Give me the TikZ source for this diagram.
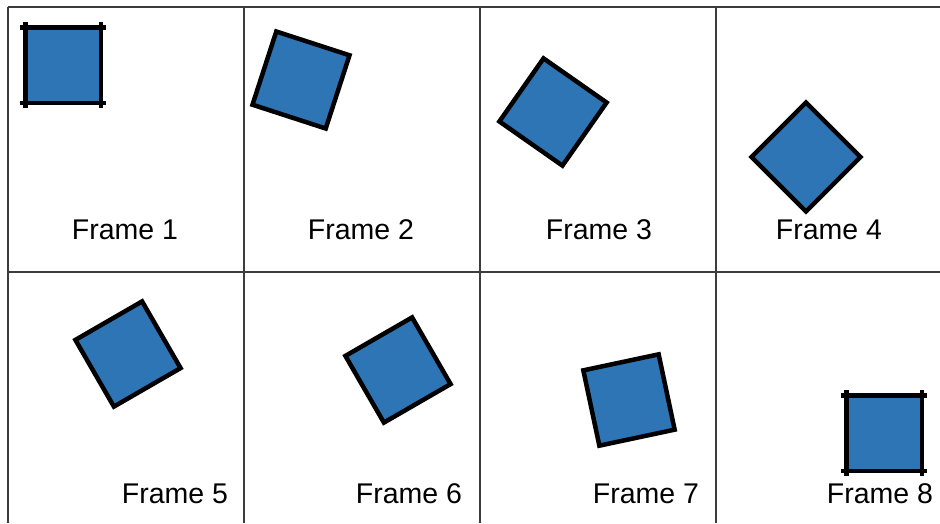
\documentclass[tikz,border=0pt]{standalone}
\usepackage{fontspec}
\setmainfont{Liberation Sans}
\usepackage{xcolor}
\usepackage{tikz}
\definecolor{cuadroazul}{RGB}{46, 117, 182}
\definecolor{rejillagris}{RGB}{60, 60, 60}

\tikzset{
  cuadro/.style={fill=cuadroazul, draw=black, line width=4.5pt, line join=miter},
  marca/.style={draw=black, line width=4.5pt},
  rejilla/.style={draw=rejillagris, line width=1.1pt},
  etiqueta/.style={font=\fontsize{28.5}{34}\selectfont, inner sep=0pt, anchor=base}
}

\begin{document}
\begin{tikzpicture}[x=1pt, y=-1pt]
    \useasboundingbox (0,0) rectangle (940,523);

    % Rejilla de los fotogramas
    \draw[rejilla] (8,7) -- (940,7);
    \draw[rejilla] (8,272) -- (940,272);
    \foreach \gx in {8,244,480,716}
      \draw[rejilla] (\gx,7) -- (\gx,523);

    % Cuadros girados en cada fotograma
    \foreach \cx/\cy/\ang/\lado/\nombre in {63/65/0/37.75/c1, 301/80/-18/38.5/c2, 553/112/-35/38.5/c3,
                                     806/157/-45/38.5/c4, 128/354/30/38.5/c5, 398/370/30/38.5/c6,
                                     629/400/12/38.5/c7, 884/433/0/37.75/c8} {
      \coordinate (\nombre) at (\cx,\cy);
      \draw[cuadro, shift={(\nombre)}, rotate=\ang]
        (-\lado,-\lado) -- (\lado,-\lado) -- (\lado,\lado) -- (-\lado,\lado) -- cycle;
    }

    % Marcas en las esquinas (fotogramas 1 y 8)
    \foreach \nombre in {c1, c8} {
      \draw[marca, shift={(\nombre)}] (-43,-37.75) -- (43,-37.75);
      \draw[marca, shift={(\nombre)}] (-43,37.75) -- (43,37.75);
      \draw[marca, shift={(\nombre)}] (-37.75,-43) -- (-37.75,43);
      \draw[marca, shift={(\nombre)}] (37.75,-43) -- (37.75,43);
    }

    % Etiquetas
    \node[etiqueta] (l1) at (125,239) {Frame 1};
    \node[etiqueta] (l2) at (361,239) {Frame 2};
    \node[etiqueta] (l3) at (599,239) {Frame 3};
    \node[etiqueta] (l4) at (829,239) {Frame 4};
    \node[etiqueta] (l5) at (175,503) {Frame 5};
    \node[etiqueta] (l6) at (409,503) {Frame 6};
    \node[etiqueta] (l7) at (646,503) {Frame 7};
    \node[etiqueta] (l8) at (880,503) {Frame 8};
\end{tikzpicture}
\end{document}
